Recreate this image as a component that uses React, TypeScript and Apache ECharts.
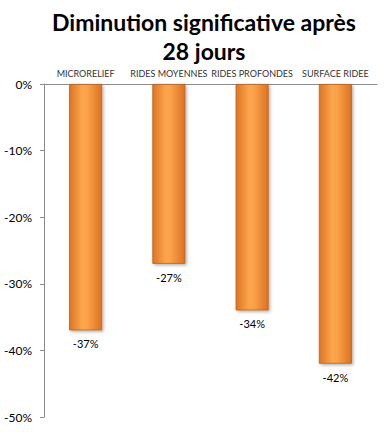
import React, { useEffect, useRef } from "react";
import * as echarts from "echarts";

const categories = ["MICRORELIEF", "RIDES MOYENNES", "RIDES PROFONDES", "SURFACE RIDEE"];
const values = [-37, -27, -34, -42];
const titleLines = ["Diminution significative après", "28 jours"];

export default function App() {
  const ref = useRef<HTMLDivElement>(null);
  useEffect(() => {
    if (!ref.current) return;
    const chart = echarts.init(ref.current, null, { renderer: "svg" });
    const barColor = new echarts.graphic.LinearGradient(0, 0, 1, 0, [
      { offset: 0, color: "#DD7424" },
      { offset: 0.4, color: "#FCA64D" },
      { offset: 0.55, color: "#FBA24A" },
      { offset: 1, color: "#DB7222" },
    ]);
    chart.setOption({
      animation: false,
      backgroundColor: "#ffffff",
      title: {
        text: titleLines.join("\n"),
        left: 204,
        textAlign: "center",
        top: 7,
        padding: 0,
        textStyle: {
          fontFamily: "Lato",
          fontWeight: "bold",
          fontSize: 23,
          lineHeight: 29,
          color: "#000000",
        },
      },
      grid: { left: 44, right: 14, top: 84, bottom: 15, containLabel: false },
      xAxis: {
        type: "category",
        data: categories,
        position: "top",
        axisLine: { show: true, lineStyle: { color: "#8c8c8c", width: 1 } },
        axisTick: { show: false },
        axisLabel: {
          fontFamily: "Lato",
          fontSize: 9,
          color: "#333333",
          margin: 6,
          interval: 0,
        },
      },
      yAxis: {
        type: "value",
        min: -50,
        max: 0,
        interval: 10,
        axisLine: { show: true, lineStyle: { color: "#8c8c8c", width: 1 } },
        axisTick: { show: true, length: 4, lineStyle: { color: "#8c8c8c" } },
        splitLine: { show: false },
        axisLabel: {
          formatter: (v: number) => `${v}%`,
          fontFamily: "Lato",
          fontSize: 12,
          color: "#000000",
          margin: 12,
        },
      },
      series: [
        {
          type: "bar",
          data: values,
          barWidth: 33,
          itemStyle: {
            color: barColor,
            borderColor: "#B8621F",
            borderWidth: 0.8,
            shadowColor: "rgba(0,0,0,0.3)",
            shadowBlur: 3,
            shadowOffsetX: 1.5,
            shadowOffsetY: 1.5,
          },
          label: {
            show: true,
            position: "bottom",
            distance: 8,
            formatter: (p: any) => `${p.value}%`,
            fontFamily: "Lato",
            fontSize: 11,
            color: "#000000",
          },
        },
      ],
    });
    return () => chart.dispose();
  }, []);
  return <div ref={ref} style={{ width: 391, height: 432, position: "absolute", left: 0, top: 0 }} />;
}
